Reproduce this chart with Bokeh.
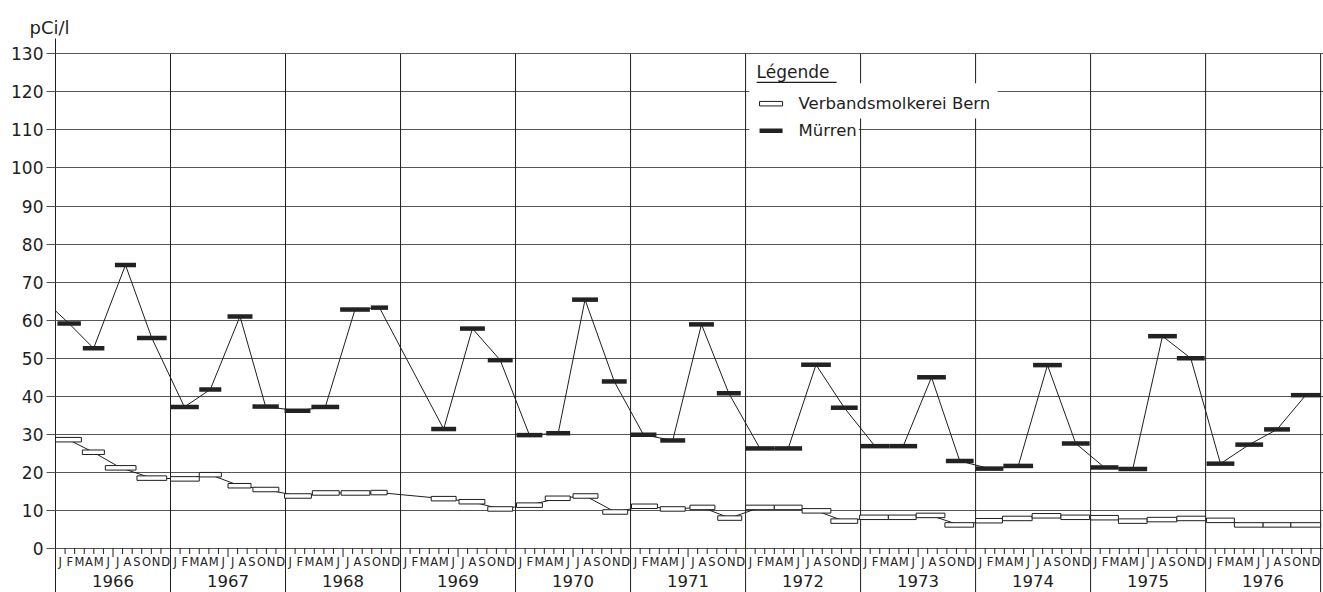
from bokeh.plotting import figure
from bokeh.models import Range1d, FixedTicker, Title
from bokeh.core.properties import value
from bokeh.embed import file_html
from bokeh.resources import INLINE

FONT = "DejaVu Sans"
INK = "#1e1e1e"
GRID = "#555555"

# ---------------- data ----------------
MONTH_LETTERS = ["J", "F", "M", "A", "M", "J", "J", "A", "S", "O", "N", "D"]
YEARS = [1966, 1967, 1968, 1969, 1970, 1971, 1972, 1973, 1974, 1975, 1976]
Y_TICKS = [0, 10, 20, 30, 40, 50, 60, 70, 80, 90, 100, 110, 120, 130]
UNIT = "pCi/l"

# sampling periods in months counted from January 1966, values in pCi/l
MUR_START = [0.2, 2.85, 6.2, 8.5,
             11.95, 15.0, 17.95, 20.55,
             23.9, 26.7, 29.7, 32.9,
             39.2, 42.2, 45.1,
             48.1, 51.2, 53.9, 57.0,
             60.0, 63.1, 66.1, 69.0,
             72.0, 75.0, 77.8, 80.9,
             84.0, 87.0, 89.9, 92.9,
             96.0, 98.9, 102.0, 105.0,
             108.0, 110.9, 114.0, 117.0,
             120.1, 123.1, 126.1, 128.9]
MUR_END = [2.65, 5.1, 8.4, 11.6,
           14.95, 17.3, 20.55, 23.3,
           26.6, 29.6, 32.8, 34.7,
           41.8, 44.8, 47.7,
           50.8, 53.7, 56.6, 59.6,
           62.7, 65.7, 68.7, 71.5,
           75.0, 77.9, 80.9, 83.7,
           87.0, 89.9, 92.9, 95.8,
           98.9, 102.0, 105.0, 107.9,
           110.9, 113.9, 117.0, 119.9,
           123.0, 126.0, 128.8, 132.0]
MUR_VAL = [59.1, 52.6, 74.5, 55.3,
           37.2, 41.8, 61.0, 37.3,
           36.2, 37.2, 62.8, 63.3,
           31.4, 57.8, 49.5,
           29.8, 30.3, 65.4, 43.9,
           29.9, 28.4, 58.9, 40.8,
           26.3, 26.3, 48.3, 37.0,
           26.9, 26.9, 45.0, 23.0,
           21.0, 21.7, 48.2, 27.6,
           21.3, 20.9, 55.8, 50.0,
           22.3, 27.3, 31.3, 40.3]
# preceding (late 1965) Mürren value, whose connecting line enters at the left edge
MUR_PREV_START = -3.0
MUR_PREV_END = 0.0
MUR_PREV_VAL = 66.0

BERN_START = [0.0, 2.8, 5.2, 8.5,
              12.0, 15.0, 18.0, 20.6,
              23.9, 26.8, 29.8, 32.9,
              39.2, 42.1, 45.1,
              48.1, 51.1, 54.0, 57.1,
              60.1, 63.1, 66.2, 69.1,
              72.0, 75.0, 77.9, 80.9,
              83.9, 86.9, 89.8, 92.8,
              96.0, 98.8, 101.9, 104.9,
              108.0, 110.9, 113.9, 117.0,
              120.1, 123.0, 126.0, 128.9]
BERN_END = [2.7, 5.1, 8.4, 11.6,
            15.0, 17.3, 20.4, 23.3,
            26.7, 29.6, 32.8, 34.6,
            41.8, 44.8, 47.7,
            50.8, 53.7, 56.6, 59.7,
            62.8, 65.7, 68.8, 71.6,
            75.0, 77.9, 80.9, 83.7,
            86.9, 89.8, 92.8, 95.8,
            98.8, 101.9, 104.9, 107.9,
            110.9, 113.9, 117.0, 120.0,
            123.0, 126.0, 128.9, 132.0]
BERN_VAL = [28.6, 25.3, 21.2, 18.5,
            18.3, 19.4, 16.5, 15.5,
            13.8, 14.6, 14.6, 14.7,
            13.1, 12.3, 10.4,
            11.4, 13.2, 13.8, 9.6,
            11.1, 10.4, 10.8, 8.0,
            10.8, 10.8, 9.9, 7.2,
            8.2, 8.2, 8.7, 6.2,
            7.3, 7.9, 8.6, 8.2,
            8.1, 7.2, 7.6, 7.9,
            7.4, 6.2, 6.2, 6.2]

LEGEND_TITLE = "Légende"
SERIES_NAMES = ["Verbandsmolkerei Bern", "Mürren"]

# ---------------- layout ----------------
W, H = 1323, 592
BORDER_L, BORDER_T = 55, 38
X0, X1 = 0.0, 132.3
Y0, Y1 = -11.56, 134.03
frame_h = H - BORDER_T
PX = frame_h / (Y1 - Y0)          # pixels per pCi/l
N_MONTHS = 12 * len(YEARS)

p = figure(width=W, height=H, output_backend="svg", toolbar_location=None,
           x_range=Range1d(X0, X1), y_range=Range1d(Y0, Y1),
           x_axis_location=None,
           min_border_left=BORDER_L, min_border_right=0,
           min_border_top=BORDER_T, min_border_bottom=0)
p.outline_line_color = None
p.background_fill_color = "white"
p.border_fill_color = "white"

t = Title(text=UNIT, align="left", offset=-26, text_font=FONT,
          text_font_size="18px", text_font_style="normal", text_color=INK,
          standoff=2)
p.add_layout(t, "above")

# y axis
p.yaxis.ticker = FixedTicker(ticks=Y_TICKS, minor_ticks=[])
p.yaxis.major_tick_out = 9
p.yaxis.major_tick_in = 0
p.yaxis.major_tick_line_color = GRID
p.yaxis.axis_line_color = INK
p.yaxis.major_label_standoff = 3
p.yaxis.major_label_text_font = FONT
p.yaxis.major_label_text_font_size = "17px"
p.yaxis.major_label_text_color = INK

p.ygrid.ticker = FixedTicker(ticks=Y_TICKS)
p.ygrid.grid_line_color = GRID
p.ygrid.grid_line_width = 1
p.xgrid.visible = False

# year boundary lines
year_bounds = [12 * (i + 1) for i in range(len(YEARS))]
p.segment(x0=year_bounds, x1=year_bounds, y0=[Y0] * len(year_bounds),
          y1=[Y_TICKS[-1]] * len(year_bounds), line_color=INK, line_width=1)

# month ticks below the zero line
tick_x = [m for m in range(1, N_MONTHS) if m % 12 != 0]
tick_len = [(8.5 if m % 12 == 6 else 5.5) / PX for m in tick_x]
p.segment(x0=tick_x, x1=tick_x, y0=[0] * len(tick_x),
          y1=[-l for l in tick_len], line_color=INK, line_width=1)

# month letters and year labels
mx = [i + 0.5 for i in range(N_MONTHS)]
ml = [MONTH_LETTERS[i % 12] for i in range(N_MONTHS)]
p.text(x=mx, y=[0] * N_MONTHS, text=ml, text_align="center",
       text_baseline="middle", y_offset=13.5, text_font=value(FONT),
       text_font_size="11.5px", text_color=INK)
yx = [12 * i + 6 for i in range(len(YEARS))]
p.text(x=yx, y=[0] * len(YEARS), text=[str(y) for y in YEARS],
       text_align="center", text_baseline="middle", y_offset=32,
       text_font=value(FONT), text_font_size="16.5px", text_color=INK)

# ---------- series ----------
bern_mid = [(a + b) / 2 for a, b in zip(BERN_START, BERN_END)]
bern_w = [b - a for a, b in zip(BERN_START, BERN_END)]
mur_mid = [(MUR_PREV_START + MUR_PREV_END) / 2] + [(a + b) / 2 for a, b in zip(MUR_START, MUR_END)]
mur_line_val = [MUR_PREV_VAL] + MUR_VAL

p.line(bern_mid, BERN_VAL, line_color=INK, line_width=1)
p.line(mur_mid, mur_line_val, line_color=INK, line_width=1)

p.rect(x=bern_mid, y=BERN_VAL, width=bern_w, height=4.5, height_units="screen",
       fill_color="white", line_color=INK, line_width=1)
p.segment(x0=MUR_START, x1=MUR_END, y0=MUR_VAL, y1=MUR_VAL,
          line_color="#222222", line_width=4.5, line_cap="butt")

# ---------- legend (hand lettered block) ----------
# white patches that interrupt the grid behind the legend
p.quad(left=[72.4, 72.4], right=[98.3, 83.8], bottom=[113.0, 107.0],
       top=[122.3, 113.0], fill_color="white", line_color=None)
p.text(x=[73.15], y=[125.1], text=[LEGEND_TITLE], text_baseline="middle",
       text_font=value(FONT), text_font_size="17px", text_color=INK)
p.segment(x0=[73.15], x1=[81.5], y0=[122.5], y1=[122.5], line_color=INK, line_width=1.3)
p.rect(x=[74.66], y=[116.9], width=[2.4], height=4.5, height_units="screen",
       fill_color="white", line_color=INK, line_width=1)
p.segment(x0=[73.46], x1=[75.86], y0=[109.8], y1=[109.8], line_color="#222222",
          line_width=4.5, line_cap="butt")
p.text(x=[77.53, 77.53], y=[116.9, 109.8], text=SERIES_NAMES, text_baseline="middle",
       text_font=value(FONT), text_font_size="16.5px", text_color=INK)

open("out.html", "w").write(file_html(p, INLINE))
